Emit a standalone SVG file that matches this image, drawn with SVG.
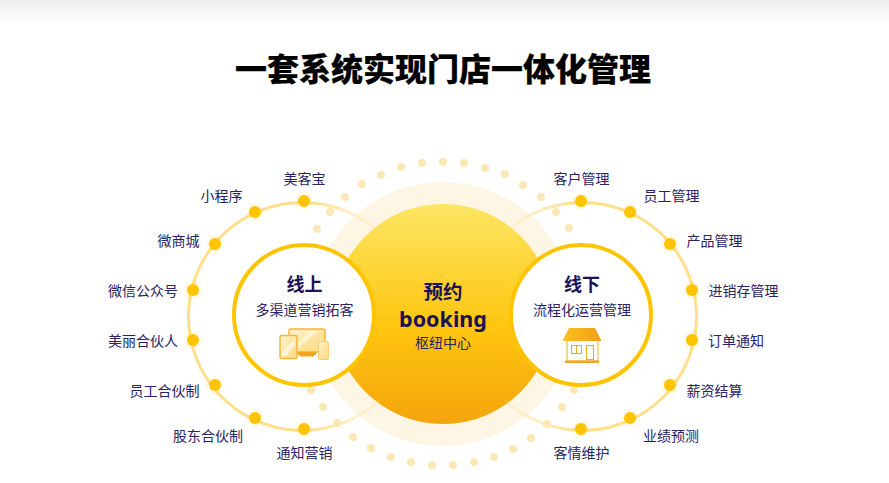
<svg xmlns="http://www.w3.org/2000/svg" width="889" height="483" viewBox="0 0 889 483">
<style>
text{font-family:"Noto Sans CJK SC","Noto Sans",sans-serif;text-anchor:middle;fill:#2b2262}
.l{font-size:14px}
.h{font-size:18px;font-weight:700;fill:#1b1256}
.p{fill:#fbe8b4}
.halo{fill:#ffc400;opacity:.09}
.d{fill:#ffc400}
.w{fill:#fff;stroke:#ffc400;stroke-width:4}
</style>
<defs>
<linearGradient id="top" x1="0" y1="0" x2="0" y2="1"><stop offset="0" stop-color="#eeeeee"/><stop offset="1" stop-color="#ffffff"/></linearGradient>
<linearGradient id="sun" x1="0" y1="0" x2="0" y2="1"><stop offset="0" stop-color="#fce664"/><stop offset=".55" stop-color="#ffc610"/><stop offset="1" stop-color="#f4a40c"/></linearGradient>
<linearGradient id="la" gradientUnits="userSpaceOnUse" x1="190" y1="0" x2="390" y2="0"><stop offset="0" stop-color="#ffdf8c"/><stop offset=".6" stop-color="#ffdf8c"/><stop offset="1" stop-color="#ffdf8c" stop-opacity="0"/></linearGradient>
<linearGradient id="ra" gradientUnits="userSpaceOnUse" x1="695" y1="0" x2="495" y2="0"><stop offset="0" stop-color="#ffdf8c"/><stop offset=".6" stop-color="#ffdf8c"/><stop offset="1" stop-color="#ffdf8c" stop-opacity="0"/></linearGradient>
<linearGradient id="ic" x1="0" y1="0" x2="1" y2="1"><stop offset="0" stop-color="#fff3cf"/><stop offset="1" stop-color="#ffd77a"/></linearGradient>
<linearGradient id="roof" x1="0" y1="0" x2="1" y2="0"><stop offset="0" stop-color="#fdc01f"/><stop offset="1" stop-color="#f0a015"/></linearGradient>
</defs>
<rect width="889" height="24" fill="url(#top)"/>
<text x="443" y="81" style="font-size:32px;font-weight:900;fill:#000;stroke:#000;stroke-width:.2">一套系统实现门店一体化管理</text>

<g id="dots">
<circle class="p" cx="317" cy="229" r="4"/><circle class="p" cx="330" cy="212" r="4"/><circle class="p" cx="345" cy="197" r="4"/><circle class="p" cx="362" cy="184" r="4"/><circle class="p" cx="381" cy="175" r="4"/><circle class="p" cx="401" cy="167" r="4"/><circle class="p" cx="422" cy="163" r="4"/><circle class="p" cx="443" cy="162" r="4"/><circle class="p" cx="464" cy="163" r="4"/><circle class="p" cx="485" cy="168" r="4"/><circle class="p" cx="505" cy="174" r="4"/><circle class="p" cx="523" cy="185" r="4"/><circle class="p" cx="541" cy="197" r="4"/><circle class="p" cx="556" cy="212" r="4"/><circle class="p" cx="569" cy="228" r="4"/>
<circle class="p" cx="311" cy="390" r="4"/><circle class="p" cx="323" cy="407" r="4"/><circle class="p" cx="353" cy="437" r="4"/><circle class="p" cx="371" cy="448" r="4"/><circle class="p" cx="391" cy="457" r="4"/><circle class="p" cx="411" cy="462" r="4"/><circle class="p" cx="432" cy="465" r="4"/><circle class="p" cx="453" cy="465" r="4"/><circle class="p" cx="474" cy="462" r="4"/><circle class="p" cx="494" cy="457" r="4"/><circle class="p" cx="513" cy="449" r="4"/><circle class="p" cx="531" cy="438" r="4"/><circle class="p" cx="562" cy="407" r="4"/><circle class="p" cx="574" cy="390" r="4"/>
</g>

<g id="center">
<circle cx="443" cy="314" r="132" fill="#fef6e4"/>
<circle cx="443" cy="314" r="110" fill="url(#sun)"/>
</g>

<g id="connectors" fill="none" stroke-width="3">
<path d="M387 240A114 114 0 1 0 380 400" stroke="url(#la)"/>
<path d="M498 240A114 114 0 1 1 505 400" stroke="url(#ra)"/>
</g>
<g id="dots2"><circle class="p" cx="337" cy="423" r="4"/><circle class="p" cx="547" cy="424" r="4"/></g>

<g id="online">
<circle class="w" cx="304" cy="315" r="70"/>
<text class="h" x="304.500" y="291">线上</text>
<text class="l" x="304.500" y="315">多渠道营销拓客</text>
<g id="devices">
<rect x="289" y="329" width="36" height="23" rx="2" fill="url(#ic)" stroke="#f7b53a" stroke-width="1.500"/>
<path d="M292 349L310 331H318L297 349Z" fill="#fff" opacity=".5"/>
<rect x="298" y="352" width="18" height="3" fill="#f2a41a"/><rect x="300" y="355" width="14" height="1.500" fill="#f2a41a"/>
<rect x="280" y="335.500" width="17" height="23" rx="1.500" fill="url(#ic)" stroke="#f7b53a" stroke-width="1.500"/>
<path d="M282 352L295 339V345L286 356H282Z" fill="#fff" opacity=".6"/>
<rect x="318.500" y="341.500" width="10" height="18" rx="1.500" fill="url(#ic)" stroke="#f7cf7a" stroke-width="1"/>
</g>
</g>

<g id="offline">
<circle class="w" cx="581" cy="315" r="70"/>
<text class="h" x="582" y="291">线下</text>
<text class="l" x="582" y="315">流程化运营管理</text>
<g id="shop">
<rect x="567" y="340" width="31" height="21" fill="#fff" stroke="#f6c87a" stroke-width="1.500"/>
<path d="M569 328H595L601 340V341H563V340Z" fill="url(#roof)"/>
<rect x="565" y="360.500" width="34" height="2.500" fill="#f2a52a"/>
<rect x="571.500" y="345.500" width="10" height="8" fill="#fff" stroke="#f2a52a"/><path d="M576.500 345.500V353.500" stroke="#f2a52a"/>
<rect x="586.500" y="345.500" width="7" height="14" fill="#fff" stroke="#f2a52a"/>
</g>
</g>

<g id="hub">
<text x="443" y="298.500" style="font-size:19.500px;font-weight:700;fill:#1b1256">预约</text>
<text x="443" y="327" style="font-size:21.500px;font-weight:700;fill:#1b1256;font-family:'Noto Sans',sans-serif">booking</text>
<text class="l" x="443" y="348">枢纽中心</text>
</g>

<g id="n1"><circle class="halo" cx="304" cy="201" r="9"/><circle class="d" cx="304" cy="201" r="6"/><text class="l" x="304.500" y="184">美客宝</text></g>
<g id="n2"><circle class="halo" cx="255" cy="212" r="9"/><circle class="d" cx="255" cy="212" r="6"/><text class="l" x="221.500" y="201">小程序</text></g>
<g id="n3"><circle class="halo" cx="215" cy="244" r="9"/><circle class="d" cx="215" cy="244" r="6"/><text class="l" x="178.500" y="246">微商城</text></g>
<g id="n4"><circle class="halo" cx="193" cy="290" r="9"/><circle class="d" cx="193" cy="290" r="6"/><text class="l" x="143" y="296">微信公众号</text></g>
<g id="n5"><circle class="halo" cx="193" cy="340" r="9"/><circle class="d" cx="193" cy="340" r="6"/><text class="l" x="143" y="346">美丽合伙人</text></g>
<g id="n6"><circle class="halo" cx="215" cy="385" r="9"/><circle class="d" cx="215" cy="385" r="6"/><text class="l" x="164.500" y="396">员工合伙制</text></g>
<g id="n7"><circle class="halo" cx="255" cy="418" r="9"/><circle class="d" cx="255" cy="418" r="6"/><text class="l" x="208" y="441">股东合伙制</text></g>
<g id="n8"><circle class="halo" cx="304" cy="429" r="9"/><circle class="d" cx="304" cy="429" r="6"/><text class="l" x="304.500" y="458">通知营销</text></g>
<g id="n9"><circle class="halo" cx="581" cy="201" r="9"/><circle class="d" cx="581" cy="201" r="6"/><text class="l" x="581.500" y="184">客户管理</text></g>
<g id="n10"><circle class="halo" cx="630" cy="212" r="9"/><circle class="d" cx="630" cy="212" r="6"/><text class="l" x="671.500" y="201">员工管理</text></g>
<g id="n11"><circle class="halo" cx="670" cy="244" r="9"/><circle class="d" cx="670" cy="244" r="6"/><text class="l" x="714.500" y="245.500">产品管理</text></g>
<g id="n12"><circle class="halo" cx="692" cy="290" r="9"/><circle class="d" cx="692" cy="290" r="6"/><text class="l" x="743.500" y="296">进销存管理</text></g>
<g id="n13"><circle class="halo" cx="692" cy="340" r="9"/><circle class="d" cx="692" cy="340" r="6"/><text class="l" x="736" y="346">订单通知</text></g>
<g id="n14"><circle class="halo" cx="670" cy="385" r="9"/><circle class="d" cx="670" cy="385" r="6"/><text class="l" x="714.500" y="396">薪资结算</text></g>
<g id="n15"><circle class="halo" cx="630" cy="418" r="9"/><circle class="d" cx="630" cy="418" r="6"/><text class="l" x="671" y="441">业绩预测</text></g>
<g id="n16"><circle class="halo" cx="581" cy="429" r="9"/><circle class="d" cx="581" cy="429" r="6"/><text class="l" x="581.500" y="458">客情维护</text></g>
</svg>
